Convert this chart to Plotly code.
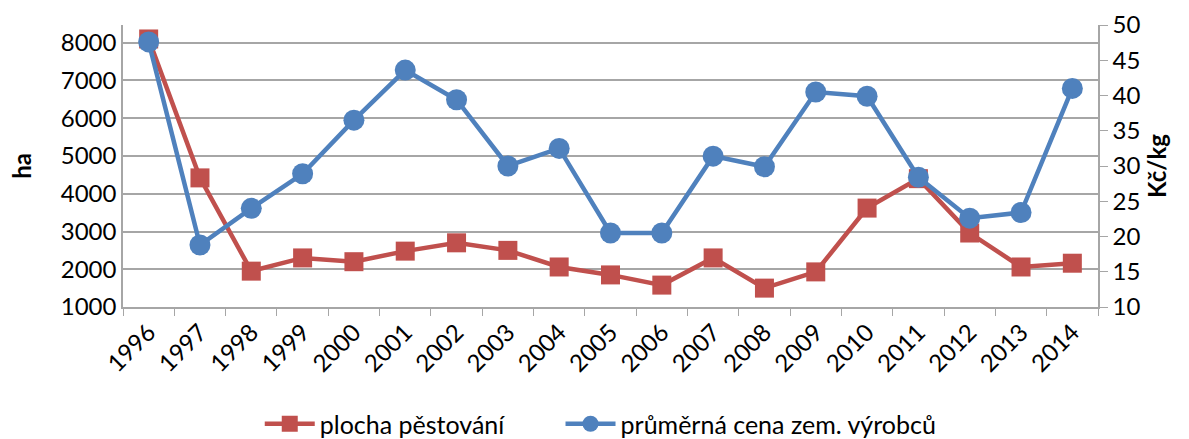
import plotly.graph_objects as go

years = [str(y) for y in range(1996, 2015)]
plocha = [8100, 4420, 1950, 2300, 2200, 2480, 2700, 2500, 2060, 1850, 1580, 2300, 1500, 1930, 3620, 4400, 2960, 2060, 2160]
cena = [47.6, 18.8, 24.0, 28.9, 36.5, 43.6, 39.4, 30.0, 32.5, 20.5, 20.5, 31.4, 29.9, 40.5, 39.9, 28.4, 22.6, 23.4, 41.0]

RED = "#C0504D"
BLUE = "#4F81BD"
FONT = "Lato"
FS = 24

fig = go.Figure()
fig.add_trace(go.Scatter(
    x=years, y=plocha, name="plocha pěstování" + "&nbsp;" * 8, mode="lines+markers",
    line=dict(color=RED, width=4.5), marker=dict(symbol="square", size=19, color=RED),
    yaxis="y"))
fig.add_trace(go.Scatter(
    x=years, y=cena, name="průměrná cena zem. výrobců", mode="lines+markers",
    line=dict(color=BLUE, width=4.5), marker=dict(symbol="circle", size=21, color=BLUE),
    yaxis="y2"))

fig.update_layout(
    width=1189, height=439,
    margin=dict(l=123, r=91, t=25, b=132, autoexpand=False),
    paper_bgcolor="white", plot_bgcolor="white",
    font=dict(family=FONT, size=FS, color="#000000"),
    showlegend=True,
    legend=dict(orientation="h", x=0.49, xanchor="center", y=-0.415, yanchor="middle",
                font=dict(size=25), itemwidth=50, tracegroupgap=0),
    xaxis=dict(type="category", range=[-0.5, 18.5], automargin=False, showgrid=False,
               showline=True, linecolor="#A6A6A6", linewidth=1.5,
               ticks="outside", tickson="boundaries", ticklen=7, tickcolor="#A6A6A6",
               tickangle=-45, tickfont=dict(size=FS)),
    yaxis=dict(range=[1000, 8470], tickvals=[1000, 2000, 3000, 4000, 5000, 6000, 7000, 8000],
               automargin=False,
               showgrid=True, gridcolor="#A6A6A6", gridwidth=1.5, showline=True,
               linecolor="#A6A6A6", linewidth=1.5, zeroline=False, ticks="",
               title=dict(text="<b>ha</b>", font=dict(size=FS), standoff=22), tickfont=dict(size=FS)),
    yaxis2=dict(range=[10, 50], dtick=5, overlaying="y", side="right", showgrid=False,
                automargin=False,
                showline=True, linecolor="#A6A6A6", linewidth=1.5, zeroline=False,
                ticks="outside", ticklen=8, tickcolor="#A6A6A6",
                title=dict(text="<b>Kč/kg</b>", font=dict(size=FS), standoff=10), tickfont=dict(size=FS)),
)

fig.write_html("out.html", config={"displayModeBar": False},
               post_script="document.body.style.margin='0';document.body.style.overflow='hidden';")
